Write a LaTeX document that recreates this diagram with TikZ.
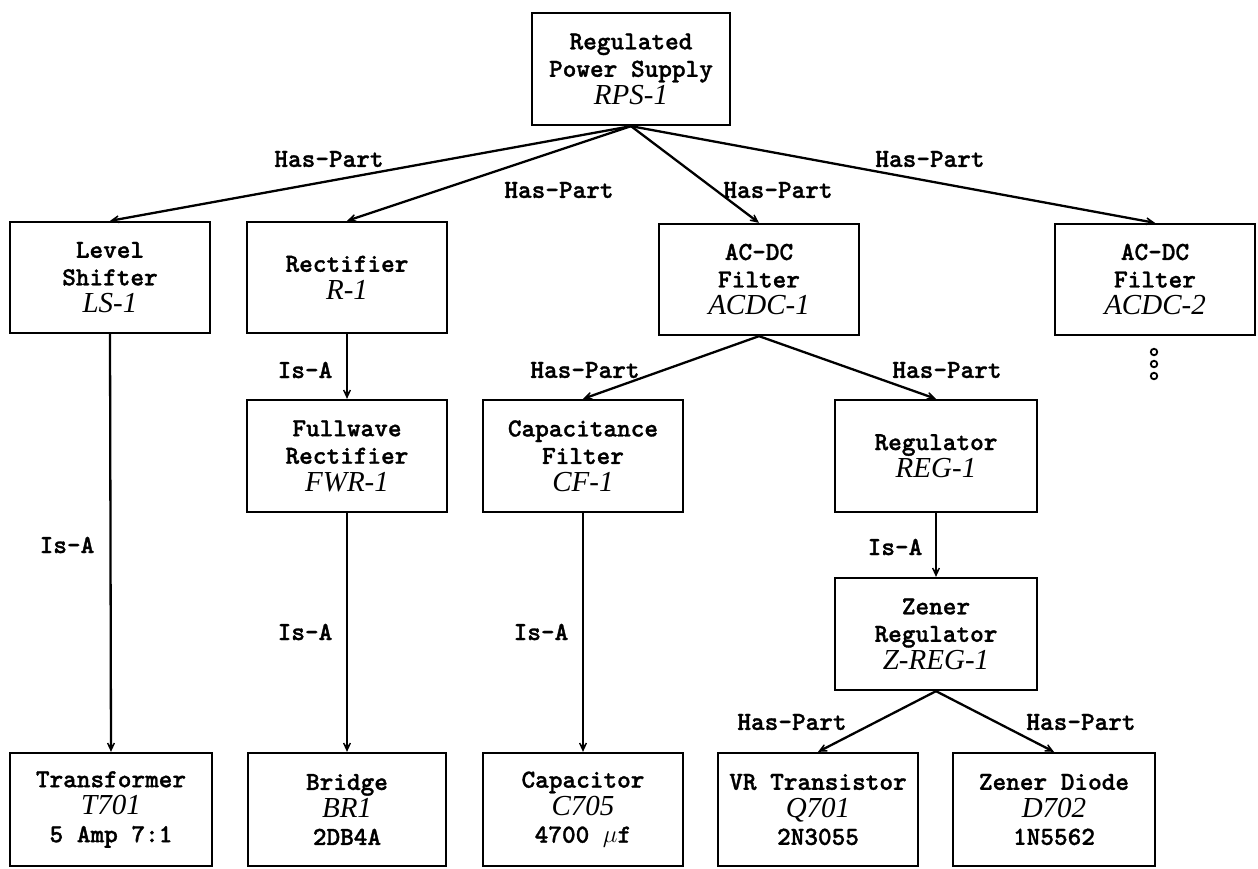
\documentclass[tikz,border=0pt]{standalone}
\usepackage{fontspec}
\usetikzlibrary{arrows.meta}
\newfontfamily\ttb{lmmonolt10-bold.otf}[FakeBold=1.2]
\newfontfamily\idfont{Liberation Serif}
\newcommand\idf[1]{{\idfont\itshape\fontsize{29}{27.5}\selectfont #1}}
\begin{document}
\begin{tikzpicture}[x=1pt,y=-1pt,
  box/.style={draw,line width=2.3pt,minimum width=200pt,minimum height=112pt,inner sep=0pt,align=center,font=\ttb\fontsize{26}{27.5}\selectfont},
  conn/.style={line width=2.3pt,-{Stealth[length=15pt,width=14pt,inset=10pt]}},
  lbl/.style={font=\ttb\fontsize{26}{27.5}\selectfont,inner sep=0pt},
  dot/.style={draw,circle,line width=1.8pt,minimum size=6.5pt,inner sep=0pt}]
\useasboundingbox (0,0) rectangle (1258,868);
% nodes
\node[box,minimum width=198pt] (rps) at (631,69) {Regulated\\Power Supply\\\idf{RPS-1}};
\node[box,minimum height=111pt] (ls) at (110,277.5) {Level\\Shifter\\\idf{LS-1}};
\node[box,minimum height=111pt] (r) at (347,277.5) {Rectifier\\\idf{R-1}};
\node[box,minimum height=111pt] (a1) at (759,279.5) {AC-DC\\Filter\\\idf{ACDC-1}};
\node[box,minimum height=111pt] (a2) at (1155,279.5) {AC-DC\\Filter\\\idf{ACDC-2}};
\node[box] (fwr) at (347,456) {Fullwave\\Rectifier\\\idf{FWR-1}};
\node[box] (cf) at (583,456) {Capacitance\\Filter\\\idf{CF-1}};
\node[box,minimum width=202pt] (reg) at (936,456) {Regulator\\\idf{REG-1}};
\node[box,minimum width=202pt] (zreg) at (936,634) {Zener\\Regulator\\\idf{Z-REG-1}};
\node[box,minimum width=202pt,minimum height=113pt] (t) at (111,809.5) {Transformer\\\idf{T701}\\5 Amp 7:1};
\node[box,minimum width=198pt,minimum height=113pt] (br) at (347,809.5) {Bridge\\\idf{BR1}\\2DB4A};
\node[box,minimum height=113pt] (c) at (583,809.5) {Capacitor\\\idf{C705}\\4700 $\mu$f};
\node[box,minimum width=200pt,minimum height=113pt] (vr) at (818,809.5) {VR Transistor\\\idf{Q701}\\2N3055};
\node[box,minimum width=202pt,minimum height=113pt] (zd) at (1054,809.5) {Zener Diode\\\idf{D702}\\1N5562};
% dots
\node[dot] (d1) at (1154,352) {};
\node[dot] (d2) at (1154,364) {};
\node[dot] (d3) at (1154,376) {};
% connectors
\draw[conn] (rps.south) -- (ls.north);
\draw[conn] (rps.south) -- (r.north);
\draw[conn] (rps.south) -- (a1.north);
\draw[conn] (rps.south) -- (a2.north);
\draw[conn] (r.south) -- (fwr.north);
\draw[conn] (a1.south) -- (cf.north);
\draw[conn] (a1.south) -- (reg.north);
\draw[conn] (ls.south) -- (t.north);
\draw[conn] (fwr.south) -- (br.north);
\draw[conn] (cf.south) -- (c.north);
\draw[conn] (reg.south) -- (zreg.north);
\draw[conn] (zreg.south) -- (vr.north);
\draw[conn] (zreg.south) -- (zd.north);
% labels
\node[lbl] (l1) at (329,159) {Has-Part};
\node[lbl] (l2) at (559,190) {Has-Part};
\node[lbl] (l3) at (778,190) {Has-Part};
\node[lbl] (l4) at (930,159) {Has-Part};
\node[lbl] (l5) at (305,370) {Is-A};
\node[lbl] (l6) at (585,370) {Has-Part};
\node[lbl] (l7) at (947,370) {Has-Part};
\node[lbl] (l8) at (67,545) {Is-A};
\node[lbl] (l9) at (305,632) {Is-A};
\node[lbl] (l10) at (541,632) {Is-A};
\node[lbl] (l11) at (895,547) {Is-A};
\node[lbl] (l12) at (792,722) {Has-Part};
\node[lbl] (l13) at (1081,722) {Has-Part};
\end{tikzpicture}
\end{document}
